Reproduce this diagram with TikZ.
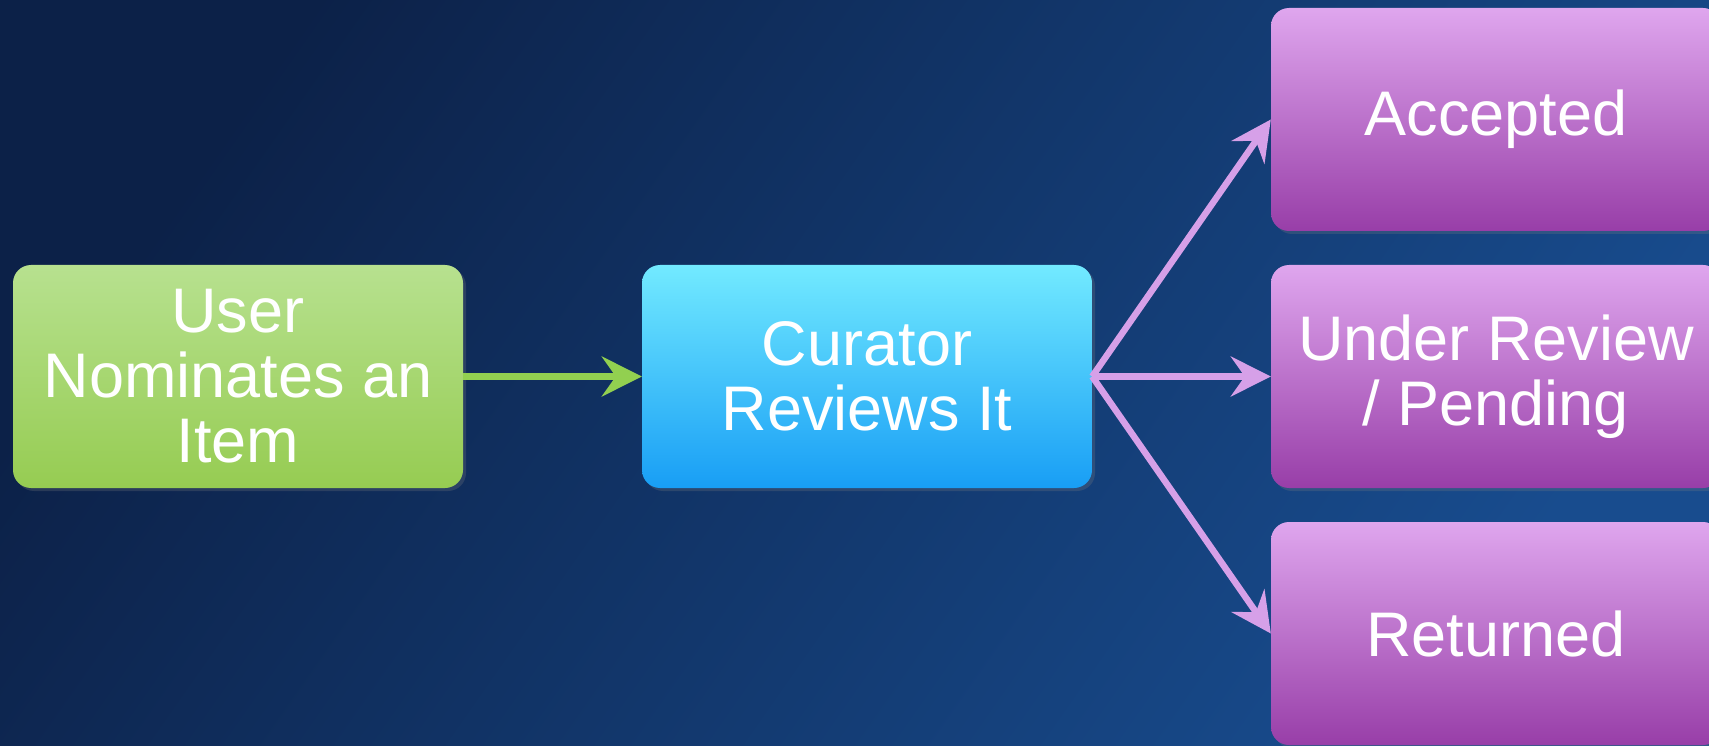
\documentclass[tikz,border=0pt]{standalone}
\usepackage{fontspec}
\setmainfont{Liberation Sans}
\usepackage{xcolor}
\usepackage{tikz}
\usetikzlibrary{positioning,arrows.meta,shadows}
\definecolor{bgdark}{RGB}{12,33,72}
\definecolor{bglight}{RGB}{24,76,142}
\definecolor{usertop}{RGB}{183,225,143}
\definecolor{userbot}{RGB}{150,204,82}
\definecolor{curtop}{RGB}{114,234,255}
\definecolor{curbot}{RGB}{24,158,245}
\definecolor{statetop}{RGB}{223,166,238}
\definecolor{statebot}{RGB}{152,62,168}
\definecolor{userarr}{RGB}{146,208,80}
\definecolor{statearr}{RGB}{214,160,232}

\begin{document}
\begin{tikzpicture}[x=1pt, y=-1pt,
  box/.style={rounded corners=18pt, minimum width=450pt, minimum height=223pt, text=white, align=center,
    font=\fontsize{63}{65}\selectfont, drop shadow={opacity=0.25, shadow xshift=3pt, shadow yshift=-3pt}},
  arr/.style={-{Stealth[length=40pt, width=40pt, inset=14pt]}, line width=6.5pt},
]

% ===== background =====
\useasboundingbox (0,0) rectangle (1709,746);
\shade[top color=bgdark, bottom color=bglight, shading angle=55] (0,0) rectangle (1709,746);

% ===== boxes =====
\node[box, top color=usertop, bottom color=userbot]   (user) at (238,376.5) {User\\Nominates an\\Item};
\node[box, top color=curtop, bottom color=curbot]     (cur)  at (867,376.5) {Curator\\Reviews It};

\node[box, top color=statetop, bottom color=statebot] (acc)  at (1496,119.5) {Accepted};
\node[box, top color=statetop, bottom color=statebot] (pend) at (1496,376.5) {Under Review\\/ Pending};
\node[box, top color=statetop, bottom color=statebot] (ret)  at (1496,633.5) {Returned};

% ===== arrows =====
\draw[arr, userarr] (user.east) -- (cur.west);
\draw[arr, statearr] (cur.east) -- (acc.west);
\draw[arr, statearr] (cur.east) -- (pend.west);
\draw[arr, statearr] (cur.east) -- (ret.west);

\end{tikzpicture}
\end{document}
